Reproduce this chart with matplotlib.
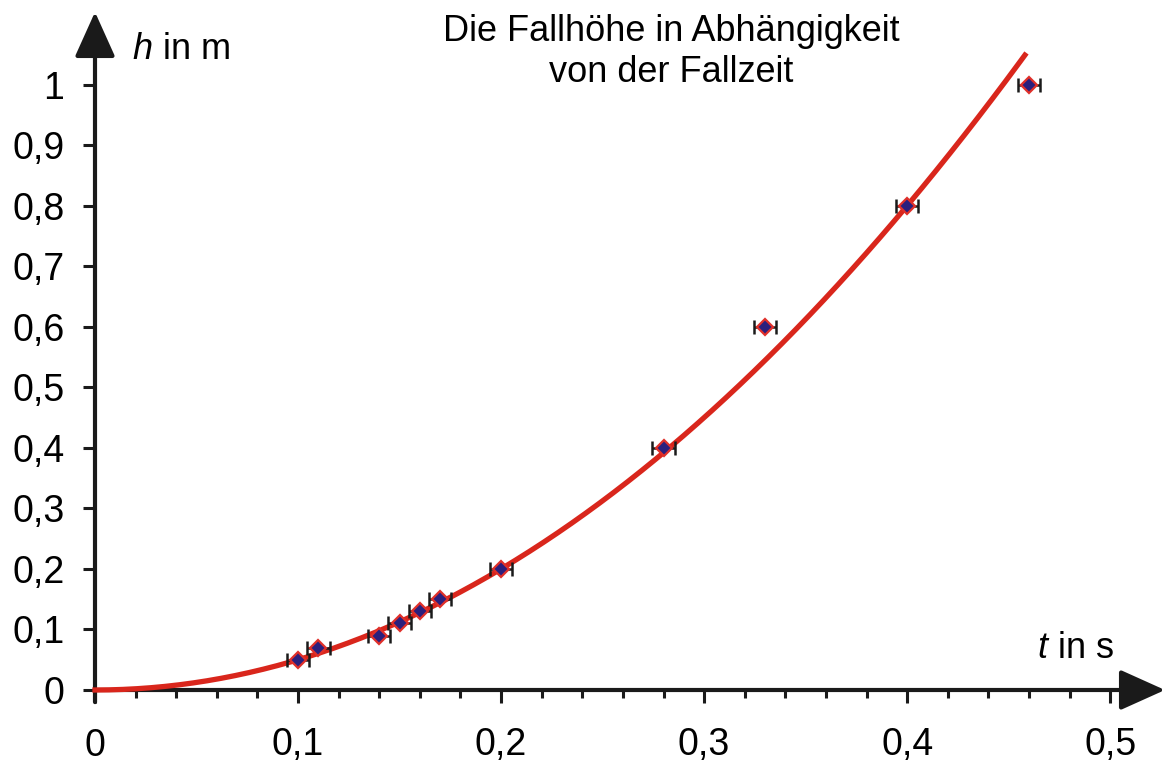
# Fallhöhe in Abhängigkeit von der Fallzeit

import matplotlib.pyplot as plt
import numpy as np

plt.rcParams['font.family'] = ['Liberation Sans', 'DejaVu Sans']
plt.rcParams['mathtext.fontset'] = 'custom'
plt.rcParams['mathtext.rm'] = 'Liberation Sans'
plt.rcParams['mathtext.it'] = 'Liberation Sans:italic'

# measured values
t_mess = [0.10, 0.11, 0.14, 0.15, 0.16, 0.17, 0.20, 0.28, 0.33, 0.40, 0.46]
h_mess = [0.05, 0.07, 0.09, 0.11, 0.13, 0.15, 0.20, 0.40, 0.60, 0.80, 1.00]
t_fehler = 0.0055

# fit curve h = k * t^2
k_fit = 5.0
t_max_fit = 0.458

x_ticks = [0, 0.1, 0.2, 0.3, 0.4, 0.5]
x_labels = ['0', '0,1', '0,2', '0,3', '0,4', '0,5']
y_ticks = [0, 0.1, 0.2, 0.3, 0.4, 0.5, 0.6, 0.7, 0.8, 0.9, 1.0]
y_labels = ['0', '0,1', '0,2', '0,3', '0,4', '0,5', '0,6', '0,7', '0,8', '0,9', '1']

W, H = 1169, 767
fig = plt.figure(figsize=(W / 100, H / 100), dpi=100)
ax = fig.add_axes([95 / W, 77 / H, (1165 - 95) / W, (690 - 12) / H])
ax.set_xlim(0, 0.527)
ax.set_ylim(0, 1.12)
for s in ax.spines.values():
    s.set_visible(False)

axcol = '#1a1a1a'
red = '#d9261c'

# axes with arrows
ax.annotate('', xy=(0.527, 0), xytext=(0, 0),
            arrowprops=dict(arrowstyle='-|>,head_length=1.0,head_width=0.45',
                            mutation_scale=28, lw=3, color=axcol,
                            shrinkA=0, shrinkB=0),
            annotation_clip=False)
ax.annotate('', xy=(0, 1.12), xytext=(0, -0.02),
            arrowprops=dict(arrowstyle='-|>,head_length=1.0,head_width=0.45',
                            mutation_scale=28, lw=3, color=axcol,
                            shrinkA=0, shrinkB=0),
            annotation_clip=False)

ax.set_xticks(x_ticks)
ax.set_xticklabels(x_labels)
ax.set_xticks(np.arange(0.02, 0.52, 0.02), minor=True)
ax.set_yticks(y_ticks)
ax.set_yticklabels(y_labels)
ax.tick_params(axis='x', which='major', direction='out', length=9, width=2.2,
               color=axcol, labelsize=27, pad=18)
ax.tick_params(axis='x', which='minor', direction='out', length=6, width=2.2,
               color=axcol)
ax.tick_params(axis='y', which='major', direction='out', length=9, width=2.2,
               color=axcol, labelsize=27, pad=13)

# fit curve
t = np.linspace(0, t_max_fit, 200)
ax.plot(t, k_fit * t ** 2, color=red, lw=3.8, zorder=3, clip_on=False)

# measurements with error bars
ax.errorbar(t_mess, h_mess, xerr=t_fehler, fmt='none', ecolor=axcol,
            elinewidth=1.8, capsize=5, capthick=1.8, zorder=4)
ax.plot(t_mess, h_mess, 'D', ms=8, mfc='#2b1f7d', mec='#e0302a', mew=1.6,
        zorder=5, clip_on=False)

# labels and title
ax.text(0.018, 1.058, '$h$ in m', fontsize=26, ha='left', va='center',
        transform=ax.transData)
ax.text(0.483, 0.069, '$t$ in s', fontsize=26, ha='center', va='center',
        transform=ax.transData)
fig.text(671 / W, 1 - 52 / H, 'Die Fallhöhe in Abhängigkeit\nvon der Fallzeit',
         fontsize=26, ha='center', va='center', linespacing=1.22)

plt.savefig('out.png', dpi=100)
